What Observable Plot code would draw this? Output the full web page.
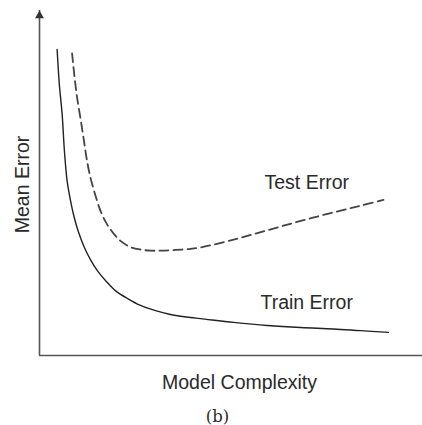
<!DOCTYPE html>
<html>
<head>
<meta charset="utf-8">
<script src="https://cdn.jsdelivr.net/npm/d3@7"></script>
<script src="https://cdn.jsdelivr.net/npm/@observablehq/plot@0.6"></script>
<style>
  html, body { margin: 0; padding: 0; background: #fff; }
</style>
</head>
<body>
<div id="chart"></div>
<script>
// Training error (solid) — model complexity vs mean error (arbitrary units 0–100)
const trainComplexity = [4.6, 5.2, 5.9, 6.5, 7.2, 8.1, 9.0, 10.2, 11.6, 13.3, 15.1, 17.5, 19.8, 23.0, 26.4, 30.3, 34.2, 39.4, 42.0, 50.7, 59.5, 68.2, 76.8, 83.8, 91.1];
const trainError      = [88.7, 78.3, 70.1, 59.4, 50.7, 44.9, 40.3, 35.7, 31.6, 27.8, 24.6, 21.4, 18.8, 16.5, 14.5, 13.0, 11.9, 11.0, 10.7, 9.6, 8.7, 8.1, 7.7, 7.2, 6.7];

// Test error (dashed)
const testComplexity = [8.5, 9.1, 9.8, 10.7, 11.6, 12.4, 13.3, 14.6, 15.9, 17.5, 19.3, 21.4, 23.8, 26.4, 29.0, 32.1, 35.5, 39.4, 42.0, 50.7, 59.5, 68.2, 76.8, 83.8, 89.8];
const testError      = [87.6, 81.2, 74.9, 68.7, 62.3, 56.5, 51.6, 46.4, 42.0, 38.3, 35.4, 33.0, 31.4, 30.7, 30.4, 30.4, 30.6, 30.9, 31.3, 33.6, 36.3, 39.0, 41.5, 43.4, 45.1];

const seriesNames = ["Train Error", "Test Error"];
const xLabel = "Model Complexity";
const yLabel = "Mean Error";
const caption = "(b)";

const train = trainComplexity.map((c, i) => ({c, e: trainError[i], series: seriesNames[0]}));
const test = testComplexity.map((c, i) => ({c, e: testError[i], series: seriesNames[1]}));

const labelIndex = 21; // label each curve above this sample

const chart = Plot.plot({
  width: 422,
  height: 425,
  marginLeft: 39,
  marginRight: 0,
  marginTop: 10,
  marginBottom: 70,
  style: {fontFamily: "'Liberation Sans', Arial, sans-serif", background: "#fff", color: "#333"},
  x: {domain: [0, 100], axis: null},
  y: {domain: [0, 100], axis: null},
  marks: [
    Plot.ruleX([0], {stroke: "#555", strokeWidth: 1.6}),
    Plot.ruleY([0], {stroke: "#555", strokeWidth: 1.6}),
    Plot.dot([100], {x: () => 0, y: d => d, symbol: "triangle", r: 3.3, fill: "#333", stroke: "none", dy: 5.2}),
    Plot.line(train, {x: "c", y: "e", curve: "catmull-rom", stroke: "#222", strokeWidth: 1.4}),
    Plot.line(test, {x: "c", y: "e", curve: "catmull-rom", stroke: "#444", strokeWidth: 1.8, strokeDasharray: "9,5"}),
    Plot.text([test[labelIndex]], {x: "c", y: "e", text: "series", dx: 6, dy: -32, lineAnchor: "bottom", fontSize: 19.5, fill: "#2a2a2a"}),
    Plot.text([train[labelIndex]], {x: "c", y: "e", text: "series", dx: 6, dy: -18.7, lineAnchor: "bottom", fontSize: 19.5, fill: "#2a2a2a"}),
    Plot.text([xLabel], {text: d => d, frameAnchor: "bottom", lineAnchor: "bottom", dx: 8.5, dy: 33, fontSize: 19.5, fill: "#2a2a2a"}),
    Plot.text([yLabel], {text: d => d, frameAnchor: "left", rotate: -90, textAnchor: "middle", lineAnchor: "middle", dx: -17, dy: 1.5, fontSize: 19.5, fill: "#2a2a2a"}),
    Plot.text([caption], {text: d => d, frameAnchor: "bottom", lineAnchor: "bottom", dx: -13.5, dy: 66.5, fontSize: 16.5, fontFamily: "'DejaVu Serif', serif", fill: "#2a2a2a"})
  ]
});
document.getElementById("chart").appendChild(chart);
</script>
</body>
</html>
